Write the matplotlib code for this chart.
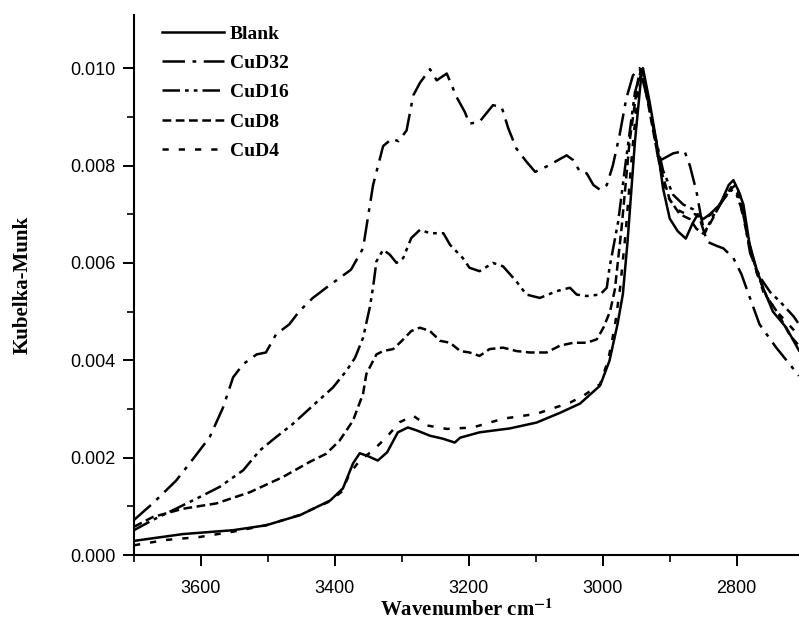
import numpy as np
import matplotlib
matplotlib.use("Agg")
import matplotlib.pyplot as plt

# Donnees (nombre d'onde en cm-1, Kubelka-Munk)
blank_x = [3700, 3627, 3552, 3503, 3452, 3407, 3388, 3373, 3363, 3352, 3336, 3322, 3306,
           3291, 3278, 3258, 3239, 3221, 3213, 3184, 3139, 3099, 3064, 3034, 3004, 2990,
           2978, 2970, 2963, 2952, 2942, 2940, 2930, 2918, 2910, 2900, 2888, 2876, 2866,
           2858, 2850, 2840, 2825, 2812, 2805, 2798, 2790, 2781, 2771, 2761, 2746, 2726, 2707]
blank_y = [0.00029, 0.00043, 0.00051, 0.00061, 0.00082, 0.00112, 0.00137, 0.00188, 0.00209,
           0.00204, 0.00194, 0.00211, 0.00252, 0.00262, 0.00256, 0.00245, 0.00239, 0.00231,
           0.00241, 0.00252, 0.00260, 0.00272, 0.00292, 0.00311, 0.00348, 0.00399, 0.00474,
           0.00536, 0.00644, 0.00849, 0.00992, 0.01000, 0.00930, 0.00834, 0.00753, 0.00691,
           0.00665, 0.00650, 0.00681, 0.00700, 0.00690, 0.00700, 0.00720, 0.00760, 0.00770,
           0.00750, 0.00720, 0.00640, 0.00590, 0.00550, 0.00500, 0.00467, 0.00420]

cud32_x = [3700, 3672, 3637, 3617, 3587, 3567, 3552, 3537, 3517, 3503, 3488, 3468, 3453,
           3433, 3413, 3393, 3376, 3358, 3343, 3328, 3315, 3305, 3293, 3283, 3273, 3258,
           3248, 3233, 3218, 3206, 3199, 3184, 3164, 3151, 3141, 3129, 3114, 3101, 3084,
           3067, 3054, 3044, 3034, 3024, 3014, 3004, 2994, 2985, 2975, 2965, 2955, 2945,
           2930, 2915, 2895, 2878, 2870, 2860, 2853, 2845, 2830, 2820, 2805, 2793, 2786,
           2766, 2741, 2721, 2707]
cud32_y = [0.00072, 0.00106, 0.00153, 0.00188, 0.00242, 0.00303, 0.00365, 0.00392, 0.00412,
           0.00416, 0.00453, 0.00474, 0.00501, 0.00528, 0.00549, 0.00569, 0.00586, 0.00630,
           0.00760, 0.00840, 0.00855, 0.00850, 0.00872, 0.00944, 0.00970, 0.00998, 0.00975,
           0.00989, 0.00940, 0.00910, 0.00886, 0.00890, 0.00924, 0.00920, 0.00876, 0.00835,
           0.00808, 0.00787, 0.00798, 0.00811, 0.00821, 0.00811, 0.00787, 0.00784, 0.00760,
           0.00750, 0.00760, 0.00800, 0.00862, 0.00937, 0.00985, 0.01000, 0.00920, 0.00810,
           0.00825, 0.00830, 0.00800, 0.00746, 0.00692, 0.00644, 0.00635, 0.00630, 0.00610,
           0.00577, 0.00550, 0.00474, 0.00426, 0.00392, 0.00368]

cud16_x = [3700, 3672, 3642, 3602, 3572, 3537, 3512, 3488, 3463, 3428, 3403, 3383, 3370,
           3358, 3348, 3343, 3338, 3328, 3318, 3308, 3298, 3286, 3273, 3258, 3238, 3228,
           3209, 3199, 3184, 3164, 3149, 3129, 3114, 3094, 3069, 3049, 3039, 3024, 3004,
           2994, 2990, 2977, 2965, 2952, 2942, 2925, 2910, 2895, 2880, 2865, 2855, 2848,
           2838, 2820, 2808, 2800, 2790, 2780, 2765, 2750, 2735, 2715, 2707]
cud16_y = [0.00051, 0.00072, 0.00092, 0.00119, 0.00140, 0.00174, 0.00215, 0.00242, 0.00269,
           0.00313, 0.00344, 0.00378, 0.00405, 0.00446, 0.00508, 0.00550, 0.00603, 0.00627,
           0.00617, 0.00600, 0.00610, 0.00651, 0.00668, 0.00661, 0.00661, 0.00637, 0.00610,
           0.00590, 0.00583, 0.00600, 0.00593, 0.00562, 0.00535, 0.00528, 0.00542, 0.00549,
           0.00535, 0.00532, 0.00535, 0.00549, 0.00590, 0.00685, 0.00815, 0.00950, 0.01000,
           0.00880, 0.00790, 0.00740, 0.00720, 0.00710, 0.00690, 0.00660, 0.00690, 0.00730,
           0.00750, 0.00740, 0.00700, 0.00620, 0.00570, 0.00540, 0.00520, 0.00490, 0.00474]

cud8_x = [3700, 3672, 3627, 3577, 3527, 3478, 3438, 3413, 3393, 3373, 3358, 3353, 3338,
          3328, 3313, 3300, 3286, 3273, 3258, 3243, 3228, 3213, 3199, 3184, 3169, 3149,
          3129, 3109, 3084, 3064, 3044, 3024, 3009, 2999, 2989, 2982, 2972, 2960, 2947,
          2942, 2930, 2915, 2900, 2885, 2870, 2860, 2850, 2840, 2825, 2810, 2802, 2795,
          2785, 2770, 2755, 2740, 2720, 2707]
cud8_y = [0.00058, 0.00078, 0.00095, 0.00106, 0.00129, 0.00160, 0.00191, 0.00208, 0.00235,
          0.00276, 0.00331, 0.00372, 0.00412, 0.00419, 0.00423, 0.00440, 0.00460, 0.00467,
          0.00460, 0.00440, 0.00436, 0.00419, 0.00416, 0.00409, 0.00423, 0.00426, 0.00419,
          0.00416, 0.00416, 0.00430, 0.00436, 0.00436, 0.00443, 0.00467, 0.00501, 0.00545,
          0.00671, 0.00849, 0.00978, 0.00998, 0.00910, 0.00800, 0.00730, 0.00700, 0.00690,
          0.00670, 0.00660, 0.00680, 0.00720, 0.00750, 0.00760, 0.00740, 0.00660, 0.00580,
          0.00530, 0.00500, 0.00450, 0.00430]

cud4_x = [3700, 3652, 3602, 3552, 3503, 3453, 3408, 3390, 3378, 3363, 3343, 3323, 3303,
          3283, 3262, 3233, 3194, 3149, 3099, 3049, 3029, 3004, 2992, 2982, 2974, 2966,
          2956, 2946, 2941, 2930, 2918, 2905, 2890, 2875, 2862, 2850, 2838, 2820, 2806,
          2798, 2788, 2775, 2760, 2740, 2720, 2707]
cud4_y = [0.00020, 0.00031, 0.00037, 0.00048, 0.00061, 0.00082, 0.00110, 0.00130, 0.00167,
          0.00194, 0.00215, 0.00242, 0.00273, 0.00286, 0.00266, 0.00259, 0.00262, 0.00280,
          0.00290, 0.00313, 0.00327, 0.00351, 0.00400, 0.00470, 0.00550, 0.00660, 0.00830,
          0.00970, 0.01000, 0.00920, 0.00820, 0.00740, 0.00710, 0.00700, 0.00700, 0.00690,
          0.00700, 0.00730, 0.00760, 0.00740, 0.00680, 0.00600, 0.00540, 0.00500, 0.00470,
          0.00450]

labels = ['Blank', 'CuD32', 'CuD16', 'CuD8', 'CuD4']

plt.rcParams['mathtext.fontset'] = 'stix'

fig = plt.figure(figsize=(7.99, 6.33), dpi=100)
ax = fig.add_axes([0.1677, 0.1232, 0.8323, 0.8537])

lw = 1.8
ax.plot(blank_x, blank_y, color='black', lw=lw, linestyle='-', label=labels[0])
ax.plot(cud32_x, cud32_y, color='black', lw=lw, linestyle=(0, (9, 3, 1.5, 3)), label=labels[1])
ax.plot(cud16_x, cud16_y, color='black', lw=lw, linestyle=(0, (7, 2, 1.5, 2, 1.5, 2)), label=labels[2])
ax.plot(cud8_x, cud8_y, color='black', lw=lw, linestyle=(0, (3.5, 1.8)), label=labels[3])
ax.plot(cud4_x, cud4_y, color='black', lw=lw, linestyle=(0, (2.5, 4)), label=labels[4])

ax.set_xlim(3700, 2707)
ax.set_ylim(0, 0.0111)
ax.set_xticks([3600, 3400, 3200, 3000, 2800])
ax.set_xticks(np.arange(3700, 2700, -100), minor=True)
ax.set_yticks([0.0, 0.002, 0.004, 0.006, 0.008, 0.010])
ax.set_yticks(np.arange(0.001, 0.011, 0.002), minor=True)
ax.set_yticklabels(['0.000', '0.002', '0.004', '0.006', '0.008', '0.010'])

for side in ['top', 'right']:
    ax.spines[side].set_visible(False)
for side in ['left', 'bottom']:
    ax.spines[side].set_linewidth(1.5)

ax.tick_params(which='major', direction='out', length=8, width=1.4, labelsize=13)
ax.tick_params(which='minor', direction='out', length=5, width=1.2)
ax.tick_params(axis='x', which='major', pad=10)
ax.tick_params(axis='y', which='major', pad=5)
for t in ax.get_xticklabels() + ax.get_yticklabels():
    t.set_fontfamily('Liberation Sans')

ax.set_xlabel(r'Wavenumber cm$^{\mathbf{-1}}$', fontfamily='Liberation Serif',
              fontweight='bold', fontsize=15, labelpad=2)
ax.set_ylabel('Kubelka-Munk', fontfamily='Liberation Serif', fontweight='bold',
              fontsize=15, labelpad=27)

ax.legend(loc='upper left', bbox_to_anchor=(0.03, 0.995), frameon=False,
          prop={'family': 'Liberation Serif', 'weight': 'bold', 'size': 14},
          handlelength=3.2, handletextpad=0.3, labelspacing=0.6, borderaxespad=0)

fig.savefig('out.png', dpi=100)
